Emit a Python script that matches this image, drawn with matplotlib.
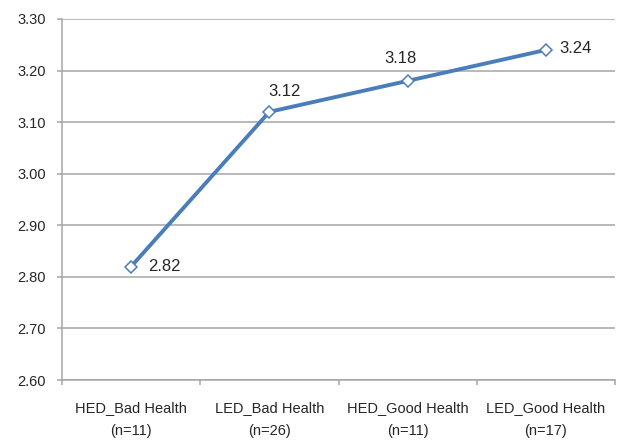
import matplotlib
matplotlib.use("Agg")
import matplotlib.pyplot as plt

categories = ["HED_Bad Health", "LED_Bad Health", "HED_Good Health", "LED_Good Health"]
sample_sizes = [11, 26, 11, 17]
means = [2.82, 3.12, 3.18, 3.24]
y_ticks = [2.60, 2.70, 2.80, 2.90, 3.00, 3.10, 3.20, 3.30]

plt.rcParams["font.family"] = ["Liberation Sans", "DejaVu Sans"]

DPI = 100
fig = plt.figure(figsize=(6.17, 4.44), dpi=DPI)
ax = fig.add_axes([62 / 617, 1 - 380 / 444, (615 - 62) / 617, (380 - 19) / 444])

line_color = "#4a7ebb"
grid_color = "#a6a6a6"
text_color = "#262626"

x = list(range(len(categories)))
ax.plot(x, means, color=line_color, linewidth=2.8, marker="D", markersize=6,
        markerfacecolor="white", markeredgecolor=line_color, markeredgewidth=1.1,
        solid_capstyle="round", zorder=3)

# data labels: offsets in pixels (dx, dy, ha)
px = 72 / DPI
offsets = [(17, 0, "left"), (15, 20, "center"), (-7, 22, "center"), (13, 1, "left")]
for xi, v, (dx, dy, ha) in zip(x, means, offsets):
    ax.annotate(f"{v:.2f}", (xi, v), xytext=(dx * px, dy * px), textcoords="offset points",
                ha=ha, va="center", fontsize=12, color=text_color)

ax.set_ylim(2.60, 3.30)
ax.set_yticks(y_ticks)
ax.set_yticklabels([f"{t:.2f}" for t in y_ticks])
ax.set_xlim(-0.5, len(categories) - 0.5)
ax.set_xticks(x)
ax.set_xticklabels([f"{c}\n(n={n})" for c, n in zip(categories, sample_sizes)],
                   linespacing=1.85)
ax.set_xticks([i - 0.5 for i in range(len(categories) + 1)], minor=True)

ax.grid(axis="y", color=grid_color, linewidth=1.1, zorder=0)
ax.set_axisbelow(True)
for side in ("top", "right"):
    ax.spines[side].set_visible(False)
for side in ("left", "bottom"):
    ax.spines[side].set_color(grid_color)
    ax.spines[side].set_linewidth(1.1)

ax.tick_params(axis="y", which="major", length=5 * px, width=1.1, color=grid_color,
               pad=8, labelsize=10.5, labelcolor=text_color)
ax.tick_params(axis="x", which="major", length=0, pad=15, labelsize=10.5, labelcolor=text_color)
ax.tick_params(axis="x", which="minor", length=5 * px, width=1.1, color=grid_color)

fig.savefig("out.png", dpi=DPI)
